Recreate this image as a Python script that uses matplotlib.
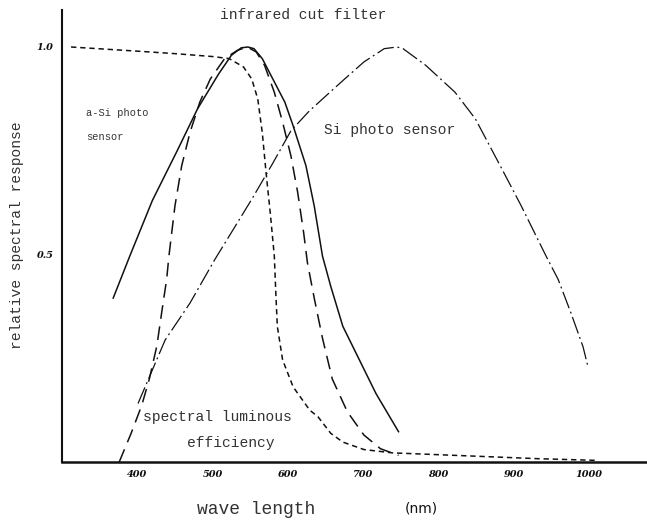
import matplotlib
matplotlib.use("Agg")
import matplotlib.pyplot as plt

# ---- data ----
ir_wl = [312, 400, 450, 500, 522, 541, 552, 560, 566, 571, 577, 582, 584, 586, 593, 607, 629, 640, 657, 673, 701, 739, 822, 932, 1009]
ir_v = [1.0, 0.99, 0.984, 0.977, 0.972, 0.952, 0.923, 0.875, 0.794, 0.698, 0.593, 0.496, 0.407, 0.327, 0.246, 0.181, 0.125, 0.109, 0.069, 0.048, 0.030, 0.022, 0.016, 0.008, 0.004]

asi_wl = [368, 390, 420, 453, 480, 508, 525, 538, 547, 555, 566, 580, 596, 607, 624, 635, 646, 657, 673, 695, 717, 747]
asi_v = [0.395, 0.496, 0.63, 0.75, 0.851, 0.935, 0.98, 0.998, 1.0, 0.996, 0.972, 0.923, 0.867, 0.81, 0.714, 0.617, 0.496, 0.423, 0.327, 0.246, 0.165, 0.073]

lum_wl = [376, 392, 406, 416, 426, 434, 439, 442, 450, 459, 470, 483, 497, 516, 533, 546, 558, 569, 582, 593, 604, 613, 621, 626, 635, 646, 659, 679, 701, 723, 747]
lum_v = [0.0, 0.07, 0.137, 0.2, 0.28, 0.38, 0.44, 0.496, 0.617, 0.714, 0.794, 0.867, 0.923, 0.972, 0.992, 1.0, 0.988, 0.956, 0.891, 0.819, 0.738, 0.65, 0.552, 0.48, 0.395, 0.298, 0.2, 0.121, 0.065, 0.032, 0.016]

si_wl = [401, 437, 470, 503, 552, 580, 604, 628, 651, 673, 701, 728, 745, 753, 783, 822, 849, 882, 910, 943, 959, 976, 992, 998]
si_v = [0.141, 0.294, 0.383, 0.488, 0.633, 0.72, 0.798, 0.845, 0.883, 0.919, 0.964, 0.996, 1.0, 0.996, 0.956, 0.891, 0.827, 0.714, 0.617, 0.496, 0.44, 0.359, 0.278, 0.234]

xticks = [400, 500, 600, 700, 800, 900, 1000]
xtick_labels = ["400", "500", "600", "700", "800", "900", "1000"]
yticks = [0.5, 1.0]
ytick_labels = ["0.5", "1.0"]

W, H = 647, 520
fig = plt.figure(figsize=(W / 100, H / 100), dpi=100)
ax = fig.add_axes([62 / W, (H - 462) / H, (W - 62) / W, (462 - 10) / H])
ax.set_xlim(300, 1077)
ax.set_ylim(0, 452 / 415)

ink = "#111111"
ax.plot(ir_wl, ir_v, color=ink, lw=1.1, dashes=(3.5, 2.5))
ax.plot(asi_wl, asi_v, color=ink, lw=1.1, linestyle="-")
ax.plot(lum_wl, lum_v, color=ink, lw=1.1, dashes=(9, 5))
ax.plot(si_wl, si_v, color=ink, lw=0.9, dashes=(14, 3, 1.5, 3))

for s in ["top", "right"]:
    ax.spines[s].set_visible(False)
ax.spines["left"].set_linewidth(1.5)
ax.spines["bottom"].set_linewidth(1.8)
ax.spines["left"].set_color(ink)
ax.spines["bottom"].set_color(ink)

ax.set_xticks(xticks)
ax.set_xticklabels(xtick_labels, fontfamily="DejaVu Serif", fontstyle="italic",
                   fontweight="bold", fontsize=7, color=ink)
ax.set_yticks(yticks)
ax.set_yticklabels(ytick_labels, fontfamily="DejaVu Serif", fontstyle="italic",
                   fontweight="bold", fontsize=7, color=ink)
ax.tick_params(axis="both", length=0, pad=6)

mono = "Liberation Mono"
tc = "#333333"

def ftext(x, y, s, **kw):
    fig.text(x / W, 1 - y / H, s, **kw)

ftext(303, 15, "infrared cut filter", family=mono, fontsize=10.5, color=tc, ha="center", va="center")
ftext(86, 113, "a-Si photo", family=mono, fontsize=7.5, color=tc, ha="left", va="center")
ftext(86, 137, "sensor", family=mono, fontsize=7.5, color=tc, ha="left", va="center")
ftext(324, 130, "Si photo sensor", family=mono, fontsize=10.5, color=tc, ha="left", va="center")
ftext(143, 417, "spectral luminous", family=mono, fontsize=10.5, color=tc, ha="left", va="center")
ftext(187, 443, "efficiency", family=mono, fontsize=10.5, color=tc, ha="left", va="center")
ftext(17, 235, "relative spectral response", family=mono, fontsize=10.5, color=tc,
      ha="center", va="center", rotation=90)
ftext(256, 510, "wave length", family=mono, fontsize=13, color=tc, ha="center", va="center")
ftext(421, 509, "(nm)", family="DejaVu Sans", fontsize=10, color=ink, ha="center", va="center")

fig.savefig("out.png", dpi=100)
